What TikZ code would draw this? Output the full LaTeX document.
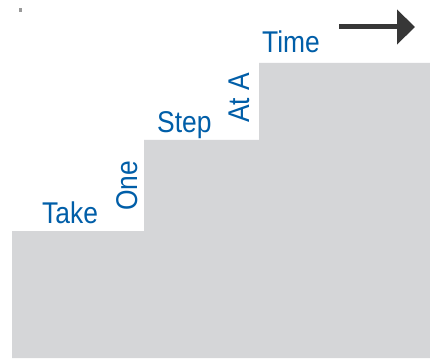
\documentclass[tikz,border=0pt]{standalone}
\usepackage{fontspec}
\setmainfont{Liberation Sans}[FakeStretch=0.88]
\usetikzlibrary{arrows.meta}
\definecolor{stairgray}{RGB}{213,214,216}
\definecolor{wordblue}{RGB}{0,94,168}
\definecolor{arrowdark}{RGB}{55,55,55}
\tikzset{
  word/.style={text=wordblue, font=\fontsize{30}{32}\selectfont, inner sep=0pt, anchor=base west},
  upword/.style={word, rotate=90},
  stairs/.style={fill=stairgray, draw=none},
  timearrow/.style={draw=arrowdark, line width=5pt, -{Triangle[length=18pt,width=34pt]}}
}
\begin{document}
\begin{tikzpicture}[x=1pt,y=-1pt]
\useasboundingbox (0,0) rectangle (430,358);
\fill[white] (0,0) rectangle (430,358);
\path[stairs] (12,358) -- (12,231) -- (144,231) -- (144,140) -- (259,140) -- (259,63) -- (430,63) -- (430,358) -- cycle;
\fill[gray!80] (19,8) rectangle (22,12);
\node[word] (take) at (42,223) {Take};
\node[upword] (one) at (137,211) {One};
\node[word] (step) at (157,133) {Step};
\node[upword] (ata) at (249,123) {At A};
\node[word] (time) at (262,53) {Time};
\coordinate (arrowstart) at (339,27);
\coordinate (arrowend) at (415,27);
\draw[timearrow] (arrowstart) -- (arrowend);
\end{tikzpicture}
\end{document}
